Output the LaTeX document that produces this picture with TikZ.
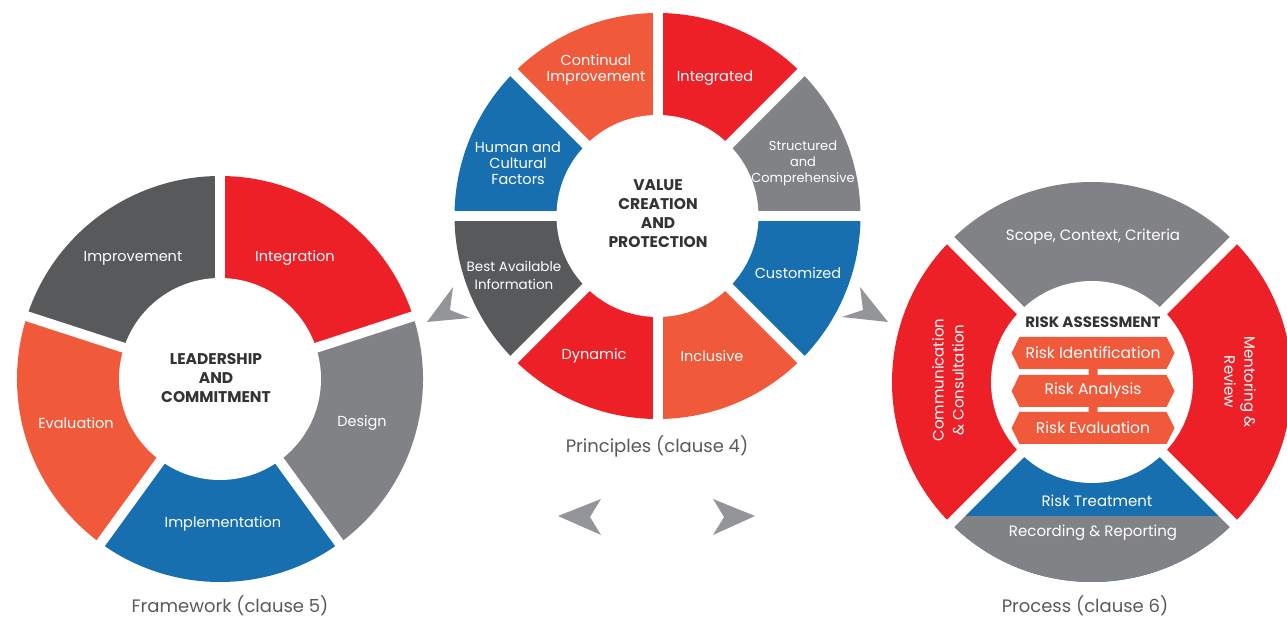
\documentclass[tikz,border=0pt]{standalone}
\usepackage{fontspec}
\setmainfont{Poppins}
\usetikzlibrary{shapes.symbols}

\definecolor{rred}{HTML}{ED2027}
\definecolor{rorange}{HTML}{F05A3B}
\definecolor{rblue}{HTML}{176FB0}
\definecolor{dgray}{HTML}{58595B}
\definecolor{lgray}{HTML}{818285}
\definecolor{dartgray}{HTML}{949599}
\definecolor{hubtext}{HTML}{333333}

\tikzset{
  lbl/.style={text=white, align=center, font=\fontsize{14.5}{16}\selectfont},
  hub/.style={text=hubtext, align=center, font=\bfseries\fontsize{15.5}{19}\selectfont},
  capt/.style={text=dgray, font=\fontsize{18}{18}\selectfont},
  gap/.style={white, line width=10pt},
  riskbox/.style={signal, signal to=east and west, signal pointer angle=127,
    fill=rorange, text=white, minimum width=163, minimum height=32, inner sep=0pt,
    font=\fontsize{15.5}{15}\selectfont},
}

\begin{document}
\begin{tikzpicture}[x=1pt,y=1pt]

\useasboundingbox (0,0) rectangle (1287,618);
\clip (0,0) rectangle (1287,618);

\coordinate (f) at (220,239);
\coordinate (p) at (657.5,402);
\coordinate (q) at (1092,236);

% framework ring
\foreach \a/\b/\c in {90/18/rred, 18/-54/lgray, -54/-126/rblue, -126/-198/rorange, 162/90/dgray}
  \fill[\c] (f) -- ++(\a:203) arc[start angle=\a, end angle=\b, radius=203] -- cycle;
\foreach \a in {90,18,-54,-126,162}
  \draw[gap] (f) -- ++(\a:206);
\fill[white] (f) circle (101);

% principles ring
\foreach \a/\b/\c in {90/45/rred, 45/0/lgray, 0/-45/rblue, -45/-90/rorange,
    -90/-135/rred, -135/-180/dgray, 180/135/rblue, 135/90/rorange}
  \fill[\c] (p) -- ++(\a:203) arc[start angle=\a, end angle=\b, radius=203] -- cycle;
\foreach \a in {0,45,...,315}
  \draw[gap] (p) -- ++(\a:206);
\fill[white] (p) circle (101);

% process ring
\foreach \a/\b/\c in {135/45/lgray, 45/-45/rred, -45/-135/rblue, -135/-225/rred}
  \fill[\c] (q) -- ++(\a:200) arc[start angle=\a, end angle=\b, radius=200] -- cycle;
\begin{scope}
  \clip (880,0) rectangle (1300,101);
  \fill[lgray] (q) -- ++(-45:200) arc[start angle=-45, end angle=-135, radius=200] -- cycle;
\end{scope}
\foreach \a in {45,135,225,315}
  \draw[gap] (q) -- ++(\a:203);
\fill[white] (q) circle (101);

% darts
\fill[dartgray] (427,296) -- (453,331) -- (450,308) -- (470,300) -- cycle;
\fill[dartgray] (888,296) -- (860,331) -- (863,308) -- (842,301) -- cycle;
\fill[dartgray] (558,102) -- (601,119) -- (590,101) -- (601,83) -- cycle;
\fill[dartgray] (755,102) -- (713,119) -- (724,101) -- (713,83) -- cycle;

% framework labels
\node[lbl] (f1) at (133,360) {Improvement};
\node[lbl] (f2) at (295,360) {Integration};
\node[lbl] (f3) at (362,195) {Design};
\node[lbl] (f4) at (223,94) {Implementation};
\node[lbl] (f5) at (76,195) {Evaluation};
\node[hub] (f0) at (216,240) {LEADERSHIP\\AND\\COMMITMENT};
\node[capt] (fc) at (230,12) {Framework (clause 5)};

% principles labels
\node[lbl] (p1) at (596,548) {Continual\\Improvement};
\node[lbl] (p2) at (715,540) {Integrated};
\node[lbl, font=\fontsize{13}{16}\selectfont] (p3) at (803,455) {Structured\\and\\Comprehensive};
\node[lbl] (p4) at (798,345) {Customized};
\node[lbl] (p5) at (712,262) {Inclusive};
\node[lbl] (p6) at (594,262) {Dynamic};
\node[lbl, font=\fontsize{13.5}{18}\selectfont] (p7) at (514,343) {Best Available\\Information};
\node[lbl] (p8) at (518,455) {Human and\\Cultural\\Factors};
\node[hub] (p0) at (658,404) {VALUE\\CREATION\\AND\\PROTECTION};
\node[capt] (pc) at (657,172) {Principles (clause 4)};

% process labels
\node[lbl, font=\fontsize{15}{15}\selectfont] (q1) at (1093,381) {Scope, Context, Criteria};
\node[lbl, rotate=90, font=\fontsize{15}{20}\selectfont] (q2) at (948,238) {Communication\\\& Consultation};
\node[lbl, rotate=-90, font=\fontsize{15}{20}\selectfont] (q3) at (1240,236) {Mentoring \&\\Review};
\node[lbl, font=\fontsize{15}{15}\selectfont] (q4) at (1097,117) {Risk Treatment};
\node[lbl, font=\fontsize{15}{15}\selectfont] (q5) at (1093,85) {Recording \& Reporting};
\node[hub, font=\bfseries\fontsize{15}{15}\selectfont] (q0) at (1093,296) {RISK ASSESSMENT};
\node[riskbox] (b1) at (1093,265) {Risk Identification};
\node[riskbox] (b2) at (1093,227) {Risk Analysis};
\node[riskbox] (b3) at (1093,190) {Risk Evaluation};
\node[capt] (qc) at (1085,12) {Process (clause 6)};

\draw[rorange, line width=9pt] (b1) -- (b2);
\draw[rorange, line width=9pt] (b2) -- (b3);

\end{tikzpicture}
\end{document}
